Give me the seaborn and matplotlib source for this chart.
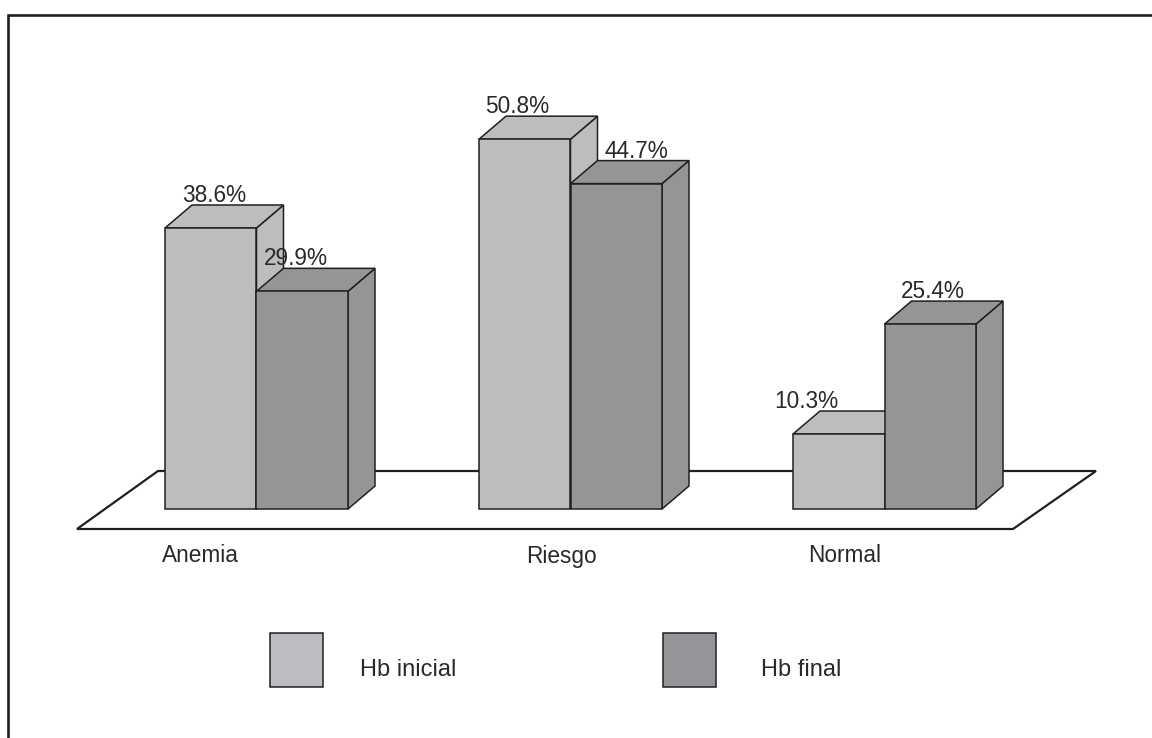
import matplotlib
matplotlib.use("Agg")
import matplotlib.pyplot as plt
from matplotlib.patches import Polygon, Rectangle
from matplotlib.lines import Line2D
from matplotlib.transforms import Affine2D
import pandas as pd
import seaborn as sns

# ---- data ----
categories = ["Anemia", "Riesgo", "Normal"]
series = ["Hb inicial", "Hb final"]
hb_inicial = [38.6, 50.8, 10.3]
hb_final = [29.9, 44.7, 25.4]

# ---- style ----
LIGHT = "#bcbdc0"
DARK = "#939598"
INK = "#231f20"
TEXT = "#2b2829"
FONT = "Liberation Sans"

sns.set_theme(style="white")
plt.rcParams["font.family"] = [FONT, "DejaVu Sans"]

W, H = 1152, 738
fig = plt.figure(figsize=(W / 100, H / 100), dpi=100)
ax = fig.add_axes([0, 0, 1, 1])

# pixel layout of the plotting area
PX_PER_CAT = 314.0      # distance between category centres
PX_PER_UNIT = 7.28      # pixels per percentage point
X0_PX = 256.5           # centre of first category
BASE_PX = 509.0         # baseline (from top)
DEPTH_X, DEPTH_Y = 27.0, 23.0   # 3-D depth offset of the bars in pixels
GROUP_W = 183 / PX_PER_CAT

df = pd.DataFrame({
    "categoria": categories * 2,
    "serie": [series[0]] * 3 + [series[1]] * 3,
    "valor": hb_inicial + hb_final,
})

sns.barplot(data=df, x="categoria", y="valor", hue="serie",
            order=categories, hue_order=series,
            palette=[LIGHT, DARK], width=GROUP_W,
            edgecolor=INK, linewidth=1.1, legend=False, ax=ax,
            errorbar=None)
bars = sorted([p for p in ax.patches if isinstance(p, Rectangle)],
              key=lambda p: p.get_x())

ax.set_xlim(-X0_PX / PX_PER_CAT, (W - X0_PX) / PX_PER_CAT)
ax.set_ylim(-(H - BASE_PX) / PX_PER_UNIT, BASE_PX / PX_PER_UNIT)
ax.axis("off")

# transform for decorations given in pixels measured from the top-left corner
px = Affine2D().scale(1 / W, -1 / H).translate(0, 1) + fig.transFigure

# floor of the 3-D scene
floor = Polygon([(77, 529), (158, 471), (1096, 471), (1013, 529)],
                closed=True, facecolor="white", edgecolor=INK,
                linewidth=1.6, transform=px, zorder=1, joinstyle="miter")
ax.add_patch(floor)

# side and top faces of every bar
ddx = DEPTH_X / PX_PER_CAT
ddy = DEPTH_Y / PX_PER_UNIT
for rank, bar in enumerate(bars):
    x0 = bar.get_x()
    x1 = x0 + bar.get_width()
    h = bar.get_height()
    fc = bar.get_facecolor()
    side = Polygon([(x1, 0), (x1 + ddx, ddy), (x1 + ddx, h + ddy), (x1, h)],
                   closed=True, facecolor=fc, edgecolor=INK, linewidth=1.1,
                   zorder=2 + 2 * rank, joinstyle="miter")
    top = Polygon([(x0, h), (x0 + ddx, h + ddy), (x1 + ddx, h + ddy), (x1, h)],
                  closed=True, facecolor=fc, edgecolor=INK, linewidth=1.1,
                  zorder=2 + 2 * rank, joinstyle="miter")
    ax.add_patch(side)
    ax.add_patch(top)
    bar.set_zorder(3 + 2 * rank)

# value labels above the bars (horizontal nudges in pixels)
label_nudge = [[3.5, -8, -32], [-6, 20.5, 3]]
for s_idx, values in enumerate([hb_inicial, hb_final]):
    for c_idx, v in enumerate(values):
        xc = c_idx - GROUP_W / 2 + GROUP_W / 2 * (s_idx + 0.5)
        xc += label_nudge[s_idx][c_idx] / PX_PER_CAT
        ax.text(xc, v + ddy + 3 / PX_PER_UNIT, f"{v}%", ha="center",
                va="baseline", fontsize=16.3, color=TEXT, zorder=20)

# category names below the floor
cat_nudge = [-56, -9.5, -40]
for i, cat in enumerate(categories):
    ax.text(i + cat_nudge[i] / PX_PER_CAT, -(556 - BASE_PX) / PX_PER_UNIT, cat,
            ha="center", va="center", fontsize=16.3, color=TEXT)

# legend
legend_items = [(270, 360, LIGHT), (663, 761, DARK)]
for (sq_x, tx_x, col), name in zip(legend_items, series):
    ax.add_patch(Rectangle((sq_x, 633), 53, 54, facecolor=col, edgecolor=INK,
                           linewidth=1.1, transform=px, zorder=5))
    ax.text(tx_x, 670, name, transform=px, ha="left", va="center",
            fontsize=17, color=TEXT)

# frame (top and left edges)
ax.add_line(Line2D([8, 8, W + 10], [H + 10, 14.5, 14.5], color=INK,
                   linewidth=1.9, transform=px, solid_joinstyle="miter",
                   clip_on=False))

fig.savefig("out.png", dpi=100, facecolor="white")
